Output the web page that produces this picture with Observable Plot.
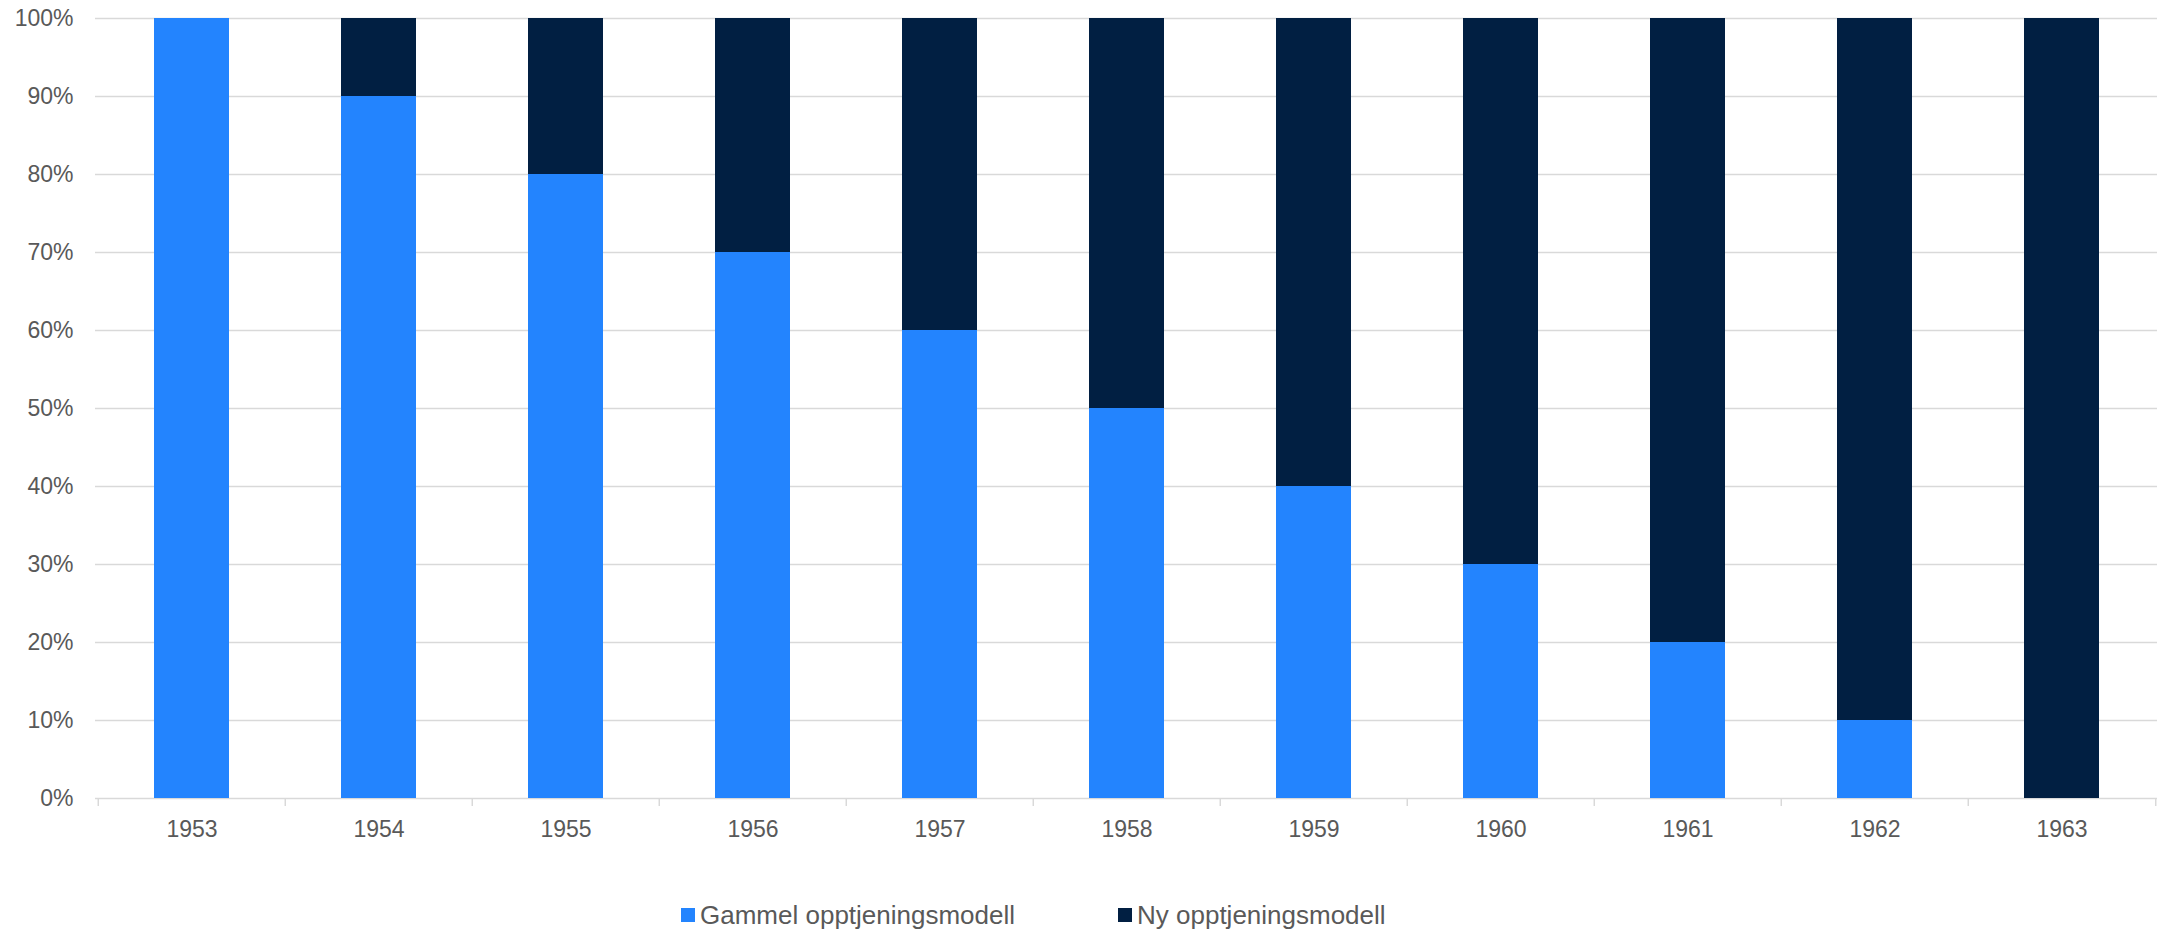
<!DOCTYPE html>
<html>
<head>
<meta charset="utf-8">
<script src="https://cdn.jsdelivr.net/npm/d3@7"></script>
<script src="https://cdn.jsdelivr.net/npm/@observablehq/plot@0.6"></script>
<style>
  html, body { margin: 0; padding: 0; background: #fff; }
  body { width: 2167px; height: 933px; position: relative; overflow: hidden; font-family: "Liberation Sans", Arial, sans-serif; }
  #chart { position: absolute; left: 0; top: 0; }
  .legend { position: absolute; top: 898px; height: 34px; display: flex; align-items: center; font-size: 26px; color: #595959; font-family: "Liberation Sans", Arial, sans-serif; }
  .legend .sw { width: 14px; height: 14px; margin-right: 5px; }
</style>
</head>
<body>
<div id="chart"></div>
<div class="legend" id="leg1" style="left:681px"><span class="sw" style="background:#2384FE"></span><span>Gammel opptjeningsmodell</span></div>
<div class="legend" id="leg2" style="left:1118px"><span class="sw" style="background:#011F42"></span><span>Ny opptjeningsmodell</span></div>
<script>
const years = ["1953","1954","1955","1956","1957","1958","1959","1960","1961","1962","1963"];
const gammel = [100, 90, 80, 70, 60, 50, 40, 30, 20, 10, 0];
const ny = [0, 10, 20, 30, 40, 50, 60, 70, 80, 90, 100];
const seriesNames = ["Gammel opptjeningsmodell", "Ny opptjeningsmodell"];
const seriesColors = ["#2384FE", "#011F42"];
const yTicks = [0, 10, 20, 30, 40, 50, 60, 70, 80, 90, 100];

const rows = [];
years.forEach((y, i) => {
  rows.push({year: y, series: seriesNames[0], value: gammel[i]});
  rows.push({year: y, series: seriesNames[1], value: ny[i]});
});

const W = 2167, H = 860;
const mL = 95, mR = 10, mT = 18, mB = 62;
const step = (W - mL - mR) / years.length;

const chart = Plot.plot({
  width: W,
  height: H,
  marginLeft: mL,
  marginRight: mR,
  marginTop: mT,
  marginBottom: mB,
  style: {fontFamily: "'Liberation Sans', Arial, sans-serif", fontSize: "23px", color: "#595959", background: "#fff"},
  x: {domain: years, paddingInner: 0.6, paddingOuter: 0.3, label: null, tickSize: 0, tickPadding: 22},
  y: {domain: [0, 100], ticks: yTicks, tickFormat: d => d + "%", label: null, tickSize: 0, tickPadding: 22},
  color: {domain: seriesNames, range: seriesColors},
  marks: [
    Plot.ruleY(yTicks, {stroke: "#d9d9d9", strokeWidth: 1.5}),
    Plot.barY(rows, {x: "year", y: "value", fill: "series", order: seriesNames}),
    Plot.ruleX(years, {x: d => d, y1: 0, y2: 0, dy: 0, stroke: "#d9d9d9", strokeWidth: 1.5, dx: -step / 2, insetTop: 0, insetBottom: -8}),
    Plot.ruleX([years[years.length - 1]], {x: d => d, y1: 0, y2: 0, stroke: "#d9d9d9", strokeWidth: 1.5, dx: step / 2, insetBottom: -8})
  ]
});
chart.querySelectorAll("text").forEach(t => t.setAttribute("fill", "#595959"));
document.getElementById("chart").appendChild(chart);
</script>
</body>
</html>
